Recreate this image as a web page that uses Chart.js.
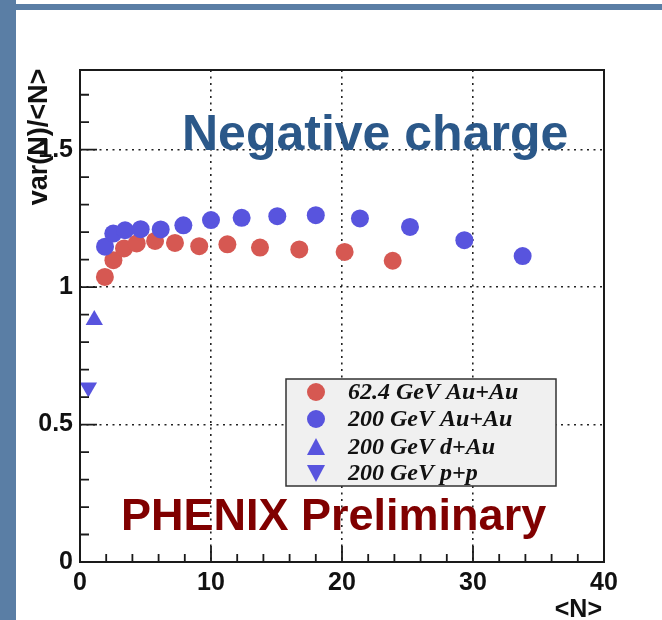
<!DOCTYPE html>
<html>
<head>
<meta charset="utf-8">
<script src="https://cdn.jsdelivr.net/npm/chart.js@4.4.1/dist/chart.umd.min.js"></script>
<style>
  html, body { margin: 0; padding: 0; background: #fff; }
  canvas { display: block; }
</style>
</head>
<body>
<canvas id="varChart" width="662" height="620"></canvas>
<script>
  // data
  const auau62X = [1.9, 2.55, 3.36, 4.33, 5.73, 7.25, 9.1, 11.25, 13.74, 16.74, 20.2, 23.87];
  const auau62Y = [1.037, 1.098, 1.141, 1.159, 1.168, 1.161, 1.149, 1.156, 1.144, 1.137, 1.128, 1.096];
  const auau200X = [1.91, 2.54, 3.44, 4.63, 6.16, 7.89, 10.0, 12.34, 15.06, 18.0, 21.37, 25.19, 29.34, 33.79];
  const auau200Y = [1.147, 1.195, 1.207, 1.211, 1.21, 1.225, 1.244, 1.252, 1.258, 1.262, 1.25, 1.219, 1.171, 1.113];
  const dauX = [1.09];
  const dauY = [0.88];
  const ppX = [0.64];
  const ppY = [0.635];

  const seriesLabels = ['62.4 GeV Au+Au', '200 GeV Au+Au', '200 GeV d+Au', '200 GeV p+p'];
  const xTicks = [0, 10, 20, 30, 40];
  const yTicks = [0, 0.5, 1, 1.5];
  const xMinor = [2, 4, 6, 8, 12, 14, 16, 18, 22, 24, 26, 28, 32, 34, 36, 38];
  const yMinor = [0.1, 0.2, 0.3, 0.4, 0.6, 0.7, 0.8, 0.9, 1.1, 1.2, 1.3, 1.4, 1.6, 1.7];

  const RED = 'rgb(214, 88, 82)';
  const BLUE = 'rgb(88, 84, 222)';
  const SANS = '"Liberation Sans", Arial, sans-serif';

  const toPoints = (xs, ys) => xs.map((x, i) => ({ x: x, y: ys[i] }));

  // slide background, frame, ticks, texts and legend
  const decorPlugin = {
    id: 'decor',
    beforeDraw(chart) {
      const c = chart.ctx;
      c.save();
      c.fillStyle = '#ffffff';
      c.fillRect(0, 0, chart.width, chart.height);
      c.fillStyle = '#5a7ea5';
      c.fillRect(0, 0, 16, chart.height);
      c.fillRect(16, 4, chart.width - 16, 6);
      c.restore();
    },
    afterDatasetsDraw(chart) {
      const c = chart.ctx;
      const a = chart.chartArea;
      const xs = chart.scales.x;
      const ys = chart.scales.y;
      c.save();
      c.strokeStyle = '#1a1a1a';
      c.lineWidth = 2;
      c.strokeRect(a.left, a.top, a.right - a.left, a.bottom - a.top);

      // inside ticks
      c.lineWidth = 1.8;
      c.beginPath();
      yTicks.forEach(v => { const p = ys.getPixelForValue(v); c.moveTo(a.left, p); c.lineTo(a.left + 17, p); });
      yMinor.forEach(v => { const p = ys.getPixelForValue(v); c.moveTo(a.left, p); c.lineTo(a.left + 9, p); });
      xTicks.forEach(v => { const p = xs.getPixelForValue(v); c.moveTo(p, a.bottom); c.lineTo(p, a.bottom - 16); });
      xMinor.forEach(v => { const p = xs.getPixelForValue(v); c.moveTo(p, a.bottom); c.lineTo(p, a.bottom - 8); });
      c.stroke();

      // axis titles
      c.fillStyle = '#111';
      c.font = 'bold 27px ' + SANS;
      c.save();
      c.translate(47, 137);
      c.rotate(-Math.PI / 2);
      c.textAlign = 'center';
      c.textBaseline = 'alphabetic';
      c.fillText('var(N)/<N>', 0, 0);
      c.restore();

      c.font = 'bold 25px ' + SANS;
      c.textAlign = 'right';
      c.fillText('<N>', 602, 617);

      // annotations
      c.textAlign = 'left';
      c.font = 'bold 50px ' + SANS;
      c.fillStyle = '#2b5889';
      c.fillText('Negative charge', 182, 150);

      c.font = 'bold 45px ' + SANS;
      c.fillStyle = '#800000';
      c.fillText('PHENIX Preliminary', 121, 530);

      // legend box
      const lx = 286, ly = 379, lw = 270, lh = 107;
      c.fillStyle = '#f0f0f0';
      c.fillRect(lx, ly, lw, lh);
      c.strokeStyle = '#333';
      c.lineWidth = 1.5;
      c.strokeRect(lx, ly, lw, lh);

      const rows = [392, 419, 447, 473];
      const order = [0, 1, 2, 3];
      c.font = 'italic bold 24px "Liberation Serif", "Times New Roman", serif';
      order.forEach((di, i) => {
        const ds = chart.data.datasets[di];
        const cx = 316, cy = rows[i];
        c.fillStyle = ds.backgroundColor;
        c.beginPath();
        if (ds.pointStyle === 'circle') {
          c.arc(cx, cy, 9, 0, Math.PI * 2);
        } else if (ds.pointRotation === 180) {
          c.moveTo(cx - 9, cy - 8); c.lineTo(cx + 9, cy - 8); c.lineTo(cx, cy + 9);
        } else {
          c.moveTo(cx - 9, cy + 8); c.lineTo(cx + 9, cy + 8); c.lineTo(cx, cy - 9);
        }
        c.closePath();
        c.fill();
        c.fillStyle = '#111';
        c.fillText(ds.label, 348, cy + 7);
      });
      c.restore();
    }
  };

  const ctx = document.getElementById('varChart').getContext('2d');

  const chart = new Chart(ctx, {
    type: 'scatter',
    data: {
      datasets: [
        { label: seriesLabels[0], data: toPoints(auau62X, auau62Y), backgroundColor: RED, borderWidth: 0,
          pointStyle: 'circle', pointRadius: 9, order: 2 },
        { label: seriesLabels[1], data: toPoints(auau200X, auau200Y), backgroundColor: BLUE, borderWidth: 0,
          pointStyle: 'circle', pointRadius: 9, order: 1 },
        { label: seriesLabels[2], data: toPoints(dauX, dauY), backgroundColor: BLUE, borderWidth: 0,
          pointStyle: 'triangle', pointRadius: 10, pointRotation: 0, order: 0 },
        { label: seriesLabels[3], data: toPoints(ppX, ppY), backgroundColor: BLUE, borderWidth: 0,
          pointStyle: 'triangle', pointRadius: 10, pointRotation: 180, order: 0 },
      ],
    },
    options: {
      responsive: false,
      animation: false,
      clip: false,
      layout: { padding: { top: 70, right: 58, left: 0, bottom: 0 } },
      plugins: { legend: { display: false }, tooltip: { enabled: false } },
      scales: {
        x: {
          type: 'linear',
          min: 0,
          max: 40,
          afterBuildTicks: scale => { scale.ticks = xTicks.map(v => ({ value: v })); },
          afterFit: scale => { scale.height = 58; },
          border: { display: false, dash: [2, 4.5] },
          grid: { color: '#222', lineWidth: 1.6, drawTicks: false },
          ticks: { color: '#111', padding: 6, maxRotation: 0, font: { family: SANS, size: 25, weight: 'bold' } },
        },
        y: {
          type: 'linear',
          min: 0,
          max: 1.79,
          afterBuildTicks: scale => { scale.ticks = yTicks.map(v => ({ value: v })); },
          afterFit: scale => { scale.width = 80; },
          border: { display: false, dash: [2, 4.5] },
          grid: { color: '#222', lineWidth: 1.6, drawTicks: false },
          ticks: { color: '#111', padding: 7, font: { family: SANS, size: 25, weight: 'bold' },
                   callback: v => String(v) },
        },
      },
    },
    plugins: [decorPlugin],
  });
</script>
</body>
</html>
